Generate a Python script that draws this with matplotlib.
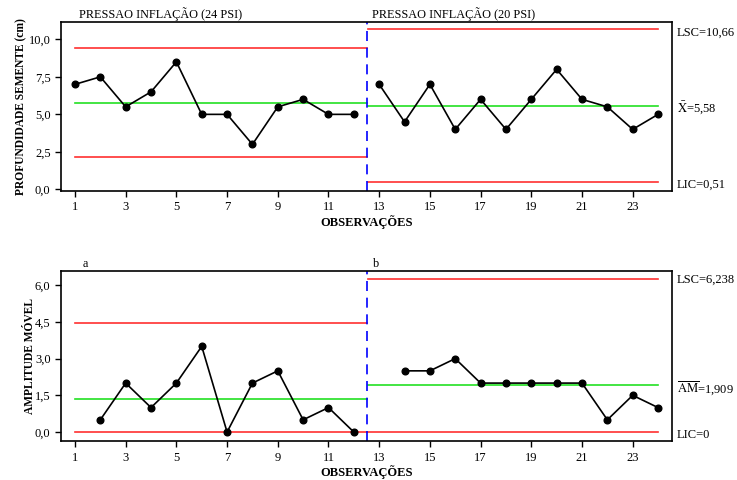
import matplotlib.pyplot as plt

plt.rcParams['font.family'] = 'Liberation Serif'
plt.rcParams['mathtext.fontset'] = 'stix'

obs = list(range(1, 25))
prof = [7.0, 7.5, 5.5, 6.5, 8.5, 5.0, 5.0, 3.0, 5.5, 6.0, 5.0, 5.0,
        7.0, 4.5, 7.0, 4.0, 6.0, 4.0, 6.0, 8.0, 6.0, 5.5, 4.0, 5.0]
mr_obs = [2, 3, 4, 5, 6, 7, 8, 9, 10, 11, 12,
          14, 15, 16, 17, 18, 19, 20, 21, 22, 23, 24]
mr = [0.5, 2.0, 1.0, 2.0, 3.5, 0.0, 2.0, 2.5, 0.5, 1.0, 0.0,
      2.5, 2.5, 3.0, 2.0, 2.0, 2.0, 2.0, 2.0, 0.5, 1.5, 1.0]

# control limits per stage (LSC, LC, LIC)
x_lim1 = [9.42, 5.79, 2.16]
x_lim2 = [10.66, 5.58, 0.51]
mr_lim1 = [4.455, 1.364, 0.0]
mr_lim2 = [6.238, 1.909, 0.0]

stage1 = (1, 12.5)
stage2 = (12.5, 24)
split = 12.5

red = '#ff3030'
green = '#22e022'

fig = plt.figure(figsize=(7.37, 4.8), dpi=100)
ax1 = fig.add_axes([0.0828, 0.602, 0.829, 0.352])
ax2 = fig.add_axes([0.0828, 0.081, 0.829, 0.354])


def draw_limits(ax, lim1, lim2):
    cols = [red, green, red]
    for v, c in zip(lim1, cols):
        ax.plot(stage1, [v, v], color=c, lw=1.2, zorder=1)
    for v, c in zip(lim2, cols):
        ax.plot([stage2[0] + 0.05, stage2[1]], [v, v], color=c, lw=1.2, zorder=1)
    ax.axvline(split, color='blue', lw=1.2, dashes=(6, 4), zorder=2)


def style(ax):
    ax.set_xlim(0.45, 24.55)
    ax.set_xticks(range(1, 25, 2))
    ax.tick_params(direction='out', length=4, width=1, labelsize=9,
                   top=False, right=False)
    for s in ax.spines.values():
        s.set_linewidth(1.2)
    ax.set_xlabel('OBSERVAÇÕES', fontsize=9, fontweight='bold', labelpad=1)


# top chart
draw_limits(ax1, x_lim1, x_lim2)
ax1.plot(obs[:12], prof[:12], color='black', marker='o', ms=4.8, lw=1.2, zorder=3)
ax1.plot(obs[12:], prof[12:], color='black', marker='o', ms=4.8, lw=1.2, zorder=3)
style(ax1)
ax1.set_ylim(-0.11, 11.15)
ax1.set_yticks([0, 2.5, 5, 7.5, 10])
ax1.set_yticklabels(['0,0', '2,5', '5,0', '7,5', '10,0'])
ax1.set_ylabel('PROFUNDIDADE SEMENTE (cm)', fontsize=8.3, fontweight='bold', labelpad=1)
ax1.text(0.03, 1.005, 'PRESSAO INFLAÇÃO (24 PSI)', transform=ax1.transAxes,
         fontsize=8.8, va='bottom', ha='left')
ax1.text(0.509, 1.005, 'PRESSAO INFLAÇÃO (20 PSI)', transform=ax1.transAxes,
         fontsize=8.8, va='bottom', ha='left')
ax1.text(1.008, x_lim2[0] - 0.2, 'LSC=10,66', transform=ax1.get_yaxis_transform(),
         fontsize=9, va='center')
ax1.text(1.008, x_lim2[1] - 0.1, r'$\bar{\mathrm{X}}$=5,58', transform=ax1.get_yaxis_transform(),
         fontsize=9, va='center')
ax1.text(1.008, x_lim2[2] - 0.2, 'LIC=0,51', transform=ax1.get_yaxis_transform(),
         fontsize=9, va='center')

# bottom chart
draw_limits(ax2, mr_lim1, mr_lim2)
ax2.plot(mr_obs[:11], mr[:11], color='black', marker='o', ms=4.8, lw=1.2, zorder=3)
ax2.plot(mr_obs[11:], mr[11:], color='black', marker='o', ms=4.8, lw=1.2, zorder=3)
style(ax2)
ax2.set_ylim(-0.37, 6.57)
ax2.set_yticks([0, 1.5, 3, 4.5, 6])
ax2.set_yticklabels(['0,0', '1,5', '3,0', '4,5', '6,0'])
ax2.set_ylabel('AMPLITUDE MÓVEL', fontsize=8.3, fontweight='bold', labelpad=-1)
ax2.text(0.035, 1.005, 'a', transform=ax2.transAxes, fontsize=8.8, va='bottom')
ax2.text(0.511, 1.005, 'b', transform=ax2.transAxes, fontsize=8.8, va='bottom')
ax2.text(1.008, mr_lim2[0], 'LSC=6,238', transform=ax2.get_yaxis_transform(),
         fontsize=9, va='center')
ax2.text(1.008, mr_lim2[1] - 0.1, r'$\overline{\mathrm{AM}}$=1,909', transform=ax2.get_yaxis_transform(),
         fontsize=9, va='center')
ax2.text(1.008, mr_lim2[2] - 0.1, 'LIC=0', transform=ax2.get_yaxis_transform(),
         fontsize=9, va='center')

fig.savefig('out.png', dpi=100)
